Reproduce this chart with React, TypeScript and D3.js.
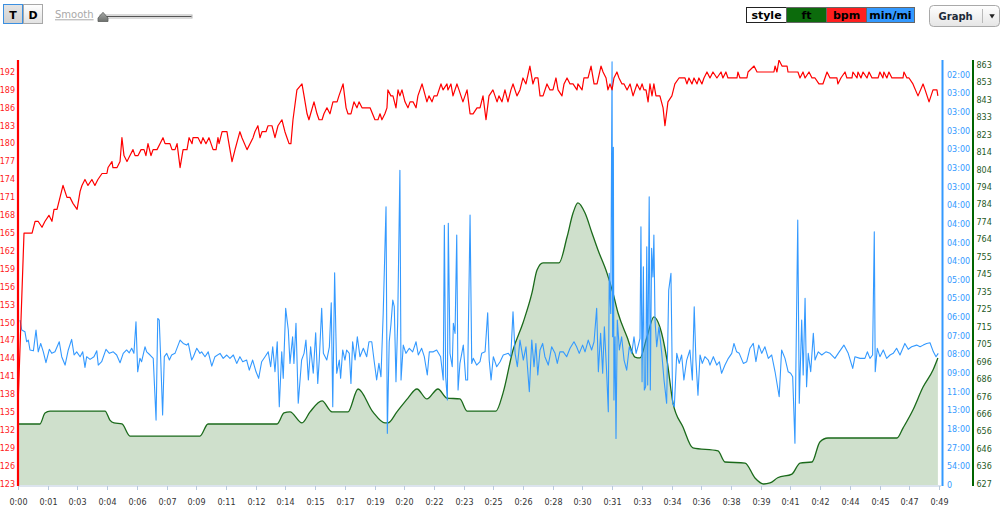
import React from "react";
import * as d3 from "d3";

// ---------- DATA ----------
const TOTAL_MINUTES = 49.1;

// heart rate (minutes, bpm)
const hrPoints: [number, number][] = [
  [0,136],[0.32,165],[0.75,165],[0.91,167],[1.07,167],[1.28,166],[1.44,167],[1.65,168],[1.81,167],[1.92,169],[2.08,169],[2.40,173],[2.61,171],[2.77,171],[2.93,170],[3.15,169],[3.31,172],[3.41,173],[3.57,174],[3.73,173],[3.94,174],[4.10,173],[4.26,174],[4.48,175],[4.74,175],[4.80,176],[5.01,177],[5.06,176],[5.28,176],[5.44,177],[5.54,181],[5.65,178],[5.81,177],[5.97,178],[6.13,179],[6.24,178],[6.40,178],[6.56,179],[6.72,179],[6.82,178],[6.93,180],[7.09,178],[7.20,179],[7.41,179],[7.57,180],[7.73,181],[7.84,180],[8.10,180],[8.21,179],[8.37,179],[8.48,180],[8.64,176],[8.80,179],[9.01,179],[9.12,181],[9.28,180],[9.33,181],[9.60,181],[9.76,180],[9.86,181],[10.02,180],[10.18,181],[10.29,180],[10.40,179],[10.56,179],[10.66,181],[10.72,180],[10.88,182],[11.14,182],[11.19,181],[11.41,177],[11.57,179],[11.83,182],[11.94,181],[12.21,179],[12.37,180],[12.53,181],[12.63,182],[12.79,183],[12.90,181],[13.01,182],[13.22,182],[13.33,183],[13.54,183],[13.70,181],[13.86,183],[14.07,184],[14.23,182],[14.34,181],[14.45,180],[14.55,180],[14.66,184],[14.87,189],[15.14,190],[15.25,188],[15.41,185],[15.51,184],[15.78,187],[15.94,185],[16.05,184],[16.21,184],[16.31,185],[16.47,186],[16.63,185],[16.79,187],[17.01,187],[17.11,188],[17.33,190],[17.49,186],[17.59,185],[17.75,185],[17.91,187],[18.07,186],[18.18,187],[18.34,186],[18.77,186],[19.03,184],[19.19,184],[19.30,185],[19.40,184],[19.56,185],[19.67,186],[19.72,189],[19.88,188],[19.99,188],[20.15,186],[20.26,189],[20.36,188],[20.47,189],[20.63,187],[20.79,186],[20.90,187],[21.06,187],[21.22,186],[21.32,188],[21.54,190],[21.80,187],[21.91,188],[22.07,187],[22.18,188],[22.34,188],[22.55,190],[22.66,189],[22.87,190],[22.92,189],[23.08,190],[23.19,188],[23.40,190],[23.51,189],[23.72,187],[23.94,189],[24.10,185],[24.26,185],[24.47,186],[24.63,186],[24.79,188],[24.95,184],[25.11,188],[25.32,189],[25.54,187],[25.64,188],[25.80,187],[25.96,189],[26.12,187],[26.28,189],[26.39,190],[26.60,188],[26.76,189],[26.92,191],[27.08,190],[27.29,193],[27.45,190],[27.56,191],[27.72,191],[27.83,188],[27.99,188],[28.20,190],[28.36,189],[28.52,189],[28.68,191],[28.79,189],[29.00,188],[29.11,190],[29.27,191],[29.43,190],[29.59,190],[29.80,189],[29.85,190],[30.07,189],[30.17,191],[30.39,191],[30.55,193],[30.71,190],[30.87,190],[31.08,193],[31.19,192],[31.35,191],[31.45,189],[31.56,190],[31.67,189],[31.77,191],[31.93,192],[32.04,191],[32.20,190],[32.31,190],[32.47,189],[32.63,190],[32.79,188],[33.00,190],[33.16,189],[33.27,190],[33.37,189],[33.48,189],[33.59,187],[33.69,190],[33.80,188],[33.90,190],[34.01,188],[34.12,188],[34.22,188],[34.39,186],[34.49,183],[34.65,187],[34.86,188],[35.02,190],[35.24,191],[35.56,191],[35.66,190],[35.77,191],[35.93,190],[36.04,191],[36.20,190],[36.30,191],[36.46,190],[36.57,191],[36.73,192],[36.89,191],[37.05,192],[37.26,191],[37.48,192],[37.58,191],[37.74,192],[37.85,191],[38.33,191],[38.38,192],[38.49,191],[38.86,191],[38.92,192],[39.24,193],[39.40,192],[40.30,192],[40.36,193],[40.46,192],[40.57,194],[40.73,193],[41.00,193],[41.05,192],[41.58,192],[41.69,191],[41.85,192],[41.96,191],[42.17,192],[42.33,191],[42.49,191],[42.70,190],[42.91,190],[43.13,192],[43.29,191],[43.66,191],[43.71,190],[43.87,191],[44.09,192],[44.19,191],[44.46,191],[44.51,192],[44.73,191],[44.78,192],[44.94,191],[45.05,192],[45.26,191],[45.37,192],[45.53,191],[45.85,191],[45.95,192],[46.11,191],[46.16,192],[46.32,191],[46.43,192],[46.59,191],[47.18,191],[47.23,192],[47.39,191],[47.50,191],[47.71,190],[47.98,188],[48.25,190],[48.36,189],[48.57,187],[48.78,189],[48.99,189],[49.04,188]
];

// speed (minutes, mph) — axis labelled as pace min/mi
const pacePoints: [number, number][] = [
  [0.11,9.83],[0.20,9.24],[0.37,9.14],[0.46,8.54],[0.55,8.64],[0.64,8.05],[0.82,8.00],[0.96,9.24],[1.08,7.94],[1.21,8.44],[1.35,7.94],[1.49,7.29],[1.67,8.09],[1.80,7.85],[1.97,7.94],[2.20,8.54],[2.33,7.65],[2.51,7.15],[2.68,8.05],[2.86,8.68],[2.99,7.75],[3.13,7.94],[3.31,7.65],[3.45,7.94],[3.57,7.01],[3.66,7.65],[3.84,7.49],[4.05,7.65],[4.20,8.00],[4.28,7.15],[4.46,7.35],[4.69,8.09],[4.87,7.85],[5.08,7.94],[5.26,7.75],[5.44,7.29],[5.61,7.85],[5.79,8.05],[5.93,7.88],[6.06,8.15],[6.18,7.85],[6.29,9.73],[6.38,6.75],[6.50,7.55],[6.59,7.35],[6.77,8.24],[6.86,7.94],[7.04,7.75],[7.21,7.55],[7.36,3.87],[7.45,9.93],[7.53,9.83],[7.61,7.45],[7.71,4.17],[7.80,7.65],[7.93,7.85],[8.07,7.45],[8.19,7.75],[8.37,7.85],[8.64,8.64],[8.81,8.44],[8.99,8.34],[9.08,8.44],[9.26,7.45],[9.35,7.65],[9.53,8.15],[9.70,7.85],[9.79,7.94],[9.97,7.65],[10.14,7.94],[10.33,7.09],[10.50,7.65],[10.77,7.85],[10.94,7.55],[11.13,7.75],[11.30,7.55],[11.48,7.75],[11.66,7.25],[11.83,7.65],[11.98,7.35],[12.19,7.45],[12.33,6.85],[12.51,7.45],[12.69,6.75],[12.83,6.36],[12.99,7.35],[13.17,7.65],[13.34,7.94],[13.47,7.05],[13.58,8.24],[13.70,6.75],[13.82,8.54],[13.93,4.67],[14.06,7.94],[14.14,6.36],[14.27,10.53],[14.41,9.24],[14.50,7.25],[14.64,8.84],[14.71,7.25],[14.82,9.64],[14.94,4.87],[15.12,7.45],[15.25,7.85],[15.35,8.64],[15.48,6.26],[15.60,8.24],[15.74,6.66],[15.87,9.08],[15.98,6.06],[16.06,7.45],[16.19,10.53],[16.28,7.85],[16.46,7.45],[16.60,8.24],[16.70,10.86],[16.78,4.67],[16.88,12.65],[16.99,6.66],[17.13,7.45],[17.20,6.36],[17.31,8.05],[17.43,7.45],[17.52,8.05],[17.66,7.85],[17.75,6.06],[17.84,8.54],[17.97,7.45],[18.09,8.84],[18.23,7.65],[18.41,8.15],[18.59,7.65],[18.71,8.54],[18.86,8.54],[18.98,7.45],[19.12,6.26],[19.24,7.25],[19.35,6.45],[19.47,10.23],[19.62,16.59],[19.69,3.08],[19.79,8.54],[19.88,9.54],[19.98,11.03],[20.06,10.63],[20.15,6.16],[20.24,9.64],[20.36,18.77],[20.42,6.26],[20.54,8.34],[20.68,7.85],[20.86,8.15],[21.04,7.94],[21.22,8.54],[21.34,7.75],[21.52,8.15],[21.66,7.65],[21.82,6.56],[21.93,7.94],[22.14,7.94],[22.32,8.05],[22.53,7.65],[22.67,6.26],[22.73,15.49],[22.80,6.45],[22.89,5.07],[22.94,15.60],[23.03,7.85],[23.15,7.05],[23.21,9.64],[23.30,9.04],[23.39,14.90],[23.46,5.66],[23.56,7.25],[23.74,8.34],[23.87,6.26],[23.97,6.26],[24.10,16.09],[24.19,7.25],[24.27,7.55],[24.45,7.15],[24.63,7.35],[24.72,7.85],[24.90,7.94],[25.04,10.27],[25.12,7.45],[25.22,6.26],[25.34,7.65],[25.52,7.05],[25.70,7.35],[25.87,7.75],[26.14,7.85],[26.27,7.65],[26.39,10.33],[26.50,7.85],[26.62,7.05],[26.76,8.64],[26.94,7.45],[27.08,8.24],[27.26,5.56],[27.39,8.64],[27.51,7.05],[27.61,8.44],[27.71,6.56],[27.83,8.05],[27.97,8.44],[28.09,7.65],[28.27,7.15],[28.45,8.24],[28.63,7.85],[28.75,7.25],[28.89,7.94],[29.07,7.94],[29.25,7.65],[29.43,8.15],[29.64,8.54],[29.78,8.24],[29.92,7.85],[30.10,8.34],[30.23,7.94],[30.40,8.64],[30.58,8.05],[30.71,8.54],[30.85,10.53],[30.94,6.75],[31.06,9.04],[31.17,6.66],[31.26,9.43],[31.38,6.75],[31.47,4.37],[31.52,12.62],[31.60,10.23],[31.67,25.23],[31.70,8.84],[31.74,20.13],[31.77,5.07],[31.83,8.84],[31.88,2.78],[31.95,9.83],[32.06,8.05],[32.18,8.84],[32.31,7.45],[32.45,6.85],[32.59,8.24],[32.72,7.85],[32.84,8.84],[32.95,7.85],[33.07,8.34],[33.16,8.74],[33.21,15.39],[33.27,6.16],[33.34,13.01],[33.39,5.66],[33.46,5.86],[33.52,14.20],[33.57,5.96],[33.65,17.18],[33.71,5.66],[33.78,14.11],[33.85,12.41],[33.90,14.90],[33.96,9.83],[34.05,8.24],[34.17,9.43],[34.32,7.85],[34.44,6.26],[34.58,4.87],[34.69,11.62],[34.81,12.62],[34.90,4.87],[34.99,4.67],[35.12,7.85],[35.25,7.25],[35.38,7.75],[35.50,6.26],[35.65,7.45],[35.82,8.05],[35.95,6.26],[36.05,10.63],[36.14,7.45],[36.25,5.36],[36.36,7.75],[36.48,7.25],[36.62,7.65],[36.80,7.45],[36.89,7.15],[37.07,7.65],[37.25,7.15],[37.39,7.35],[37.51,6.66],[37.69,7.15],[37.87,7.55],[38.05,7.85],[38.17,8.44],[38.31,7.94],[38.45,7.85],[38.67,7.25],[38.85,7.35],[39.02,8.15],[39.20,8.44],[39.34,7.35],[39.49,8.34],[39.65,7.85],[39.82,8.24],[40.00,7.55],[40.18,7.75],[40.36,6.75],[40.58,5.26],[40.71,8.05],[40.89,7.55],[41.06,6.75],[41.19,6.66],[41.30,6.45],[41.42,2.49],[41.57,15.79],[41.65,4.87],[41.78,9.83],[41.86,6.56],[41.96,11.13],[42.04,5.86],[42.13,7.85],[42.26,6.75],[42.40,9.04],[42.49,7.45],[42.66,7.94],[42.85,7.75],[43.07,7.94],[43.29,7.85],[43.55,7.55],[43.78,7.94],[44.03,8.34],[44.26,7.85],[44.50,6.95],[44.62,7.65],[44.89,7.55],[45.15,7.55],[45.28,7.94],[45.42,7.55],[45.56,7.75],[45.65,15.10],[45.70,6.75],[45.81,8.15],[45.95,7.65],[46.13,8.05],[46.31,7.55],[46.49,7.75],[46.66,7.85],[46.84,8.15],[47.02,7.75],[47.28,8.44],[47.46,8.09],[47.64,8.24],[47.91,8.34],[48.09,8.24],[48.26,8.34],[48.44,8.44],[48.62,8.48],[48.80,7.94],[48.94,7.65],[49.06,7.85]
];

// elevation (minutes, ft)
const elevPoints: [number, number][] = [
  [0,660.8],[1.17,660.8],[1.44,667.0],[1.71,668.1],[4.64,668.1],[4.90,663],[5.12,661.4],[5.54,660.8],[5.97,654],[9.70,654],[10.13,660.8],[13.81,660.8],[14.18,667],[14.50,667.6],[15.14,661.4],[15.57,667.6],[16.21,673.8],[16.74,667.6],[17.59,667.6],[18.13,680.5],[18.92,667.6],[19.56,661.4],[19.72,661.4],[20.20,667.6],[20.79,675.4],[21.27,680.5],[21.80,674.9],[22.39,680.5],[22.87,675.4],[23.56,674.9],[23.94,668.1],[25.48,668.1],[25.86,678.3],[26.39,702.5],[26.92,717.7],[27.40,734.6],[27.67,747.5],[27.99,751.5],[28.84,751.5],[29.27,766.1],[29.59,779.6],[29.85,785.3],[30.23,779.6],[30.60,768.4],[30.92,758.8],[31.40,745.8],[31.72,734.6],[31.99,723.3],[32.47,709.8],[32.89,698.5],[33.16,698.0],[33.53,709.8],[33.90,721.1],[34.22,715.4],[34.60,696.8],[34.92,672.6],[35.45,659.1],[35.98,647.3],[37.32,645.6],[37.69,639.4],[38.76,638.8],[39.29,630.4],[39.75,627],[40.09,627.6],[40.50,630.5],[41.26,632.6],[41.69,638.8],[42.33,639.4],[42.75,650.7],[43.18,652.9],[46.86,652.9],[47.18,658.5],[47.71,668.7],[48.25,681.6],[48.78,691.2],[49.04,698.0]
];

const timeTickLabels = ["0:00","0:01","0:03","0:04","0:06","0:07","0:09","0:11","0:12","0:14","0:15","0:17","0:19","0:20","0:22","0:23","0:25","0:26","0:28","0:30","0:31","0:33","0:34","0:36","0:38","0:39","0:41","0:42","0:44","0:45","0:47","0:49"];
const hrTickValues = [123,126,129,132,135,138,141,144,147,150,153,156,159,162,165,168,171,174,177,180,183,186,189,192];
const paceTickLabels = ["0","54:00","27:00","18:00","13:00","11:00","09:00","08:00","07:00","06:00","05:00","05:00","04:00","04:00","04:00","04:00","03:00","03:00","03:00","03:00","03:00","03:00","02:00"];
const elevTickLabels = ["627","636","646","656","666","676","686","696","705","715","725","735","745","755","764","774","784","794","804","814","823","833","843","853","863"];
const legendLabels = ["style","ft","bpm","min/mi"];

const SPEED_STEP = 60 / 54; // mph between pace ticks
const ELEV_MIN = 627;
const ELEV_MAX = 863;

const AXIS_FONT = "'DejaVu Sans', Verdana, sans-serif";

export default function App() {
  const W = 1006, H = 513;
  const plotTop = 60, plotBottom = 486;
  const x = d3.scaleLinear().domain([0, TOTAL_MINUTES]).range([18, 939]);
  const yHr = d3.scaleLinear().domain([123, 192]).range([484, 72]);
  const ySpeed = d3.scaleLinear().domain([0, (paceTickLabels.length - 1) * SPEED_STEP]).range([485, 75]);
  const yElev = d3.scaleLinear().domain([ELEV_MIN, ELEV_MAX]).range([484, 65]);

  const hrLine = d3.line<[number, number]>().x(d => x(d[0])).y(d => yHr(d[1]));
  const paceLine = d3.line<[number, number]>().x(d => x(d[0])).y(d => ySpeed(d[1]));
  const elevLine = d3.line<[number, number]>().x(d => x(d[0])).y(d => yElev(d[1])).curve(d3.curveMonotoneX);
  const elevArea = d3.area<[number, number]>().x(d => x(d[0])).y0(485).y1(d => yElev(d[1])).curve(d3.curveMonotoneX);

  const legendColors = ["#ffffff", "#0c6b0c", "#ff1f1f", "#3399ff"];
  const legendXs = [746.5, 786.5, 826.5, 866.5, 914.5];

  return (
    <div>
      <style>{`body{margin:0;background:#fff}`}</style>
      <svg width={W} height={H} style={{ display: "block" }} fontFamily={AXIS_FONT}>
        <defs>
          <linearGradient id="btnD" x1="0" y1="0" x2="0" y2="1">
            <stop offset="0" stopColor="#ffffff" />
            <stop offset="1" stopColor="#e2e2e2" />
          </linearGradient>
          <linearGradient id="btnT" x1="0" y1="0" x2="0" y2="1">
            <stop offset="0" stopColor="#e4e4e4" />
            <stop offset="1" stopColor="#cfcfcf" />
          </linearGradient>
          <linearGradient id="btnG" x1="0" y1="0" x2="0" y2="1">
            <stop offset="0" stopColor="#ffffff" />
            <stop offset="1" stopColor="#e5e5e5" />
          </linearGradient>
          <linearGradient id="thumb" x1="0" y1="0" x2="0" y2="1">
            <stop offset="0" stopColor="#a8aaa8" />
            <stop offset="1" stopColor="#6d706d" />
          </linearGradient>
          <clipPath id="plotClip">
            <rect x={19} y={plotTop} width={922} height={plotBottom - plotTop} />
          </clipPath>
        </defs>

        {/* top-left controls */}
        <rect x={3.5} y={4.5} width={19} height={19} fill="url(#btnT)" stroke="#3b8fe0" />
        <text x={13} y={18.5} textAnchor="middle" fontSize={11} fontWeight="bold" fill="#000">T</text>
        <rect x={23.5} y={4.5} width={19} height={19} fill="url(#btnD)" stroke="#a8a8a8" />
        <text x={33} y={18.5} textAnchor="middle" fontSize={11} fontWeight="bold" fill="#000">D</text>
        <text x={55} y={18.3} fontSize={10} fill="#a9a9a9" textDecoration="underline">Smooth</text>
        <rect x={100} y={15} width={92} height={3} fill="#ffffff" stroke="#b5b5b5" strokeWidth={1} />
        <line x1={100.5} x2={191.5} y1={16.5} y2={16.5} stroke="#555" strokeWidth={1} />
        <path d="M98,21.5 L98,18 L103,12.3 L108,18 L108,21.5 Z" fill="url(#thumb)" stroke="#5d5f5d" strokeWidth={0.8} />

        {/* legend */}
        {legendLabels.map((lab, i) => (
          <g key={lab}>
            <rect x={legendXs[i]} y={7.5} width={legendXs[i + 1] - legendXs[i]} height={15}
              fill={legendColors[i]} stroke={i === 0 ? "#222" : "#666"} strokeWidth={1} />
            <text x={(legendXs[i] + legendXs[i + 1]) / 2} y={19} textAnchor="middle" fontSize={11}
              fontWeight="bold" fill="#000">{lab}</text>
          </g>
        ))}

        {/* Graph button */}
        <rect x={929.5} y={5.5} width={70} height={21} rx={4} fill="url(#btnG)" stroke="#a9a9a9" />
        <text x={938.5} y={20.3} fontSize={10} fontWeight="bold" fill="#1c2a38">Graph</text>
        <line x1={982.5} x2={982.5} y1={9} y2={23} stroke="#b9b9b9" />
        <path d="M989.3,14.3 L994.8,14.3 L992.05,18.6 Z" fill="#222" />

        {/* series */}
        <g clipPath="url(#plotClip)">
          <path d={elevArea(elevPoints) || ""} fill="#cfe0cc" />
          <path d={elevLine(elevPoints) || ""} fill="none" stroke="#1b6a1b" strokeWidth={1.3} />
          <path d={paceLine(pacePoints) || ""} fill="none" stroke="#3399ff" strokeWidth={1.1} strokeLinejoin="round" />
          <path d={hrLine(hrPoints) || ""} fill="none" stroke="#ff0000" strokeWidth={1.2} strokeLinejoin="round" />
        </g>

        {/* bottom axis */}
        <line x1={18} x2={941} y1={486} y2={486} stroke="#b9c9dd" strokeWidth={1} />
        {timeTickLabels.map((lab, i) => {
          const tx = Math.round(x((i * TOTAL_MINUTES) / (timeTickLabels.length - 1))) + 0.5;
          return (
            <g key={"t" + i}>
              <line x1={tx} x2={tx} y1={486} y2={490} stroke="#b9c9dd" />
              <text x={tx} y={505} textAnchor="middle" fontSize={8} fill="#333">{lab}</text>
            </g>
          );
        })}

        {/* left HR axis */}
        <line x1={18} x2={18} y1={plotTop} y2={plotBottom} stroke="#ff0000" strokeWidth={2.2} />
        {hrTickValues.map(v => (
          <text key={"h" + v} x={15} y={yHr(v)} dy="0.35em" textAnchor="end" fontSize={8} fill="#ff1a1a">{v}</text>
        ))}

        {/* right pace axis */}
        <line x1={942.5} x2={942.5} y1={plotTop} y2={plotBottom} stroke="#3399ff" strokeWidth={2} />
        {paceTickLabels.map((lab, k) => (
          <text key={"p" + k} x={947} y={ySpeed(k * SPEED_STEP)} dy="0.35em" fontSize={8} fill="#3399ff">{lab}</text>
        ))}

        {/* far right elevation axis */}
        <line x1={973} x2={973} y1={plotTop} y2={plotBottom} stroke="#006400" strokeWidth={2} />
        {elevTickLabels.map((lab, k) => (
          <text key={"e" + k} x={976.5}
            y={yElev(ELEV_MIN + (k * (ELEV_MAX - ELEV_MIN)) / (elevTickLabels.length - 1))}
            dy="0.35em" fontSize={8} fill="#1f5a1f">{lab}</text>
        ))}
      </svg>
    </div>
  );
}
